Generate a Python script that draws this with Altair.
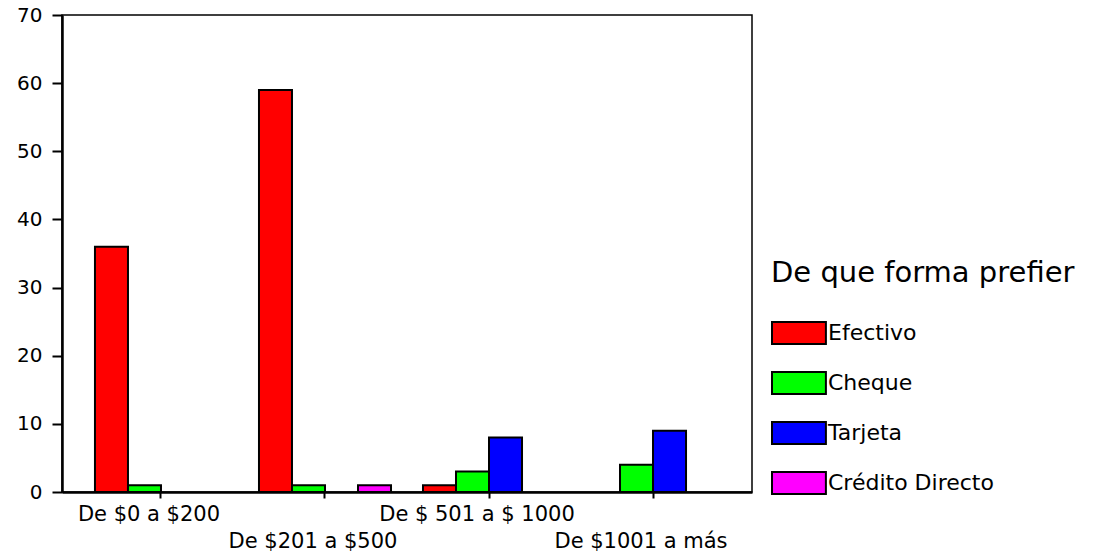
import altair as alt
import pandas as pd

# Income ranges (x groups) and preferred payment methods (series)
rangos = ["De $0 a $200", "De $201 a $500", "De $ 501 a $ 1000", "De $1001 a más"]
formas = ["Efectivo", "Cheque", "Tarjeta", "Crédito Directo"]
colores = ["#ff0000", "#00ff00", "#0000ff", "#ff00ff"]

# Counts per income range, one list per payment method
efectivo = [36, 59, 1, 0]
cheque = [1, 1, 3, 4]
tarjeta = [0, 0, 8, 9]
credito = [0, 1, 0, 0]

series = dict(zip(formas, [efectivo, cheque, tarjeta, credito]))
rows = []
for forma, valores in series.items():
    for rango, v in zip(rangos, valores):
        rows.append({"rango": rango, "forma": forma, "valor": v})
df = pd.DataFrame(rows)

FONT = "DejaVu Sans"

# second-row labels are pushed down one line so the x labels alternate
segunda_fila = [r for i, r in enumerate(rangos) if i % 2 == 1]
cond = " || ".join(f"datum.value == '{r}'" for r in segunda_fila)
label_expr = f"({cond}) ? ['', datum.label] : datum.label"

# rectangular legend swatch, shifted right so it starts at the symbol slot
swatch = "M-1,-1L3.9,-1L3.9,1L-1,1Z"

chart = (
    alt.Chart(df)
    .transform_filter("datum.valor > 0")
    .mark_bar(stroke="black", strokeWidth=2)
    .encode(
        x=alt.X(
            "rango:N",
            sort=rangos,
            scale=alt.Scale(domain=rangos, paddingInner=0.195, paddingOuter=0.201),
            axis=alt.Axis(
                title=None,
                labelAngle=0,
                labelExpr=label_expr,
                labelLineHeight=27,
                labelPadding=5,
                labelOffset=-12,
                labelFontSize=21,
                labelLimit=400,
                tickSize=6,
            ),
        ),
        xOffset=alt.XOffset(
            "forma:N",
            sort=formas,
            scale=alt.Scale(domain=formas, paddingInner=0, paddingOuter=0),
        ),
        y=alt.Y(
            "valor:Q",
            scale=alt.Scale(domain=[0, 70], nice=False),
            axis=alt.Axis(
                title=None,
                values=list(range(0, 71, 10)),
                grid=False,
                tickSize=10,
                labelPadding=10,
                labelFontSize=20,
            ),
        ),
        color=alt.Color(
            "forma:N",
            sort=formas,
            scale=alt.Scale(domain=formas, range=colores),
            legend=alt.Legend(
                title="De que forma prefier",
                orient="none",
                legendX=709,
                legendY=244,
                symbolType=swatch,
                symbolSize=484,
                symbolStrokeColor="black",
                symbolStrokeWidth=2,
                symbolOpacity=1,
                labelOffset=33,
                labelFontSize=22,
                labelLimit=300,
                rowPadding=20,
                titleFontSize=29,
                titleFontWeight="normal",
                titlePadding=33,
                titleLimit=400,
            ),
        ),
    )
    .properties(
        width=690,
        height=477,
        autosize=alt.AutoSizeParams(type="none"),
        padding={"left": 62, "top": 15, "right": 360, "bottom": 60},
        background="white",
    )
    .configure_view(stroke="black", strokeWidth=1.5)
    .configure_axis(
        domainColor="black",
        domainWidth=2.5,
        tickColor="black",
        tickWidth=2,
        labelColor="black",
        labelFont=FONT,
    )
    .configure_legend(
        labelFont=FONT,
        titleFont=FONT,
        labelColor="black",
        titleColor="black",
    )
)

chart.save("out.html", embed_options={"renderer": "svg", "actions": False})
